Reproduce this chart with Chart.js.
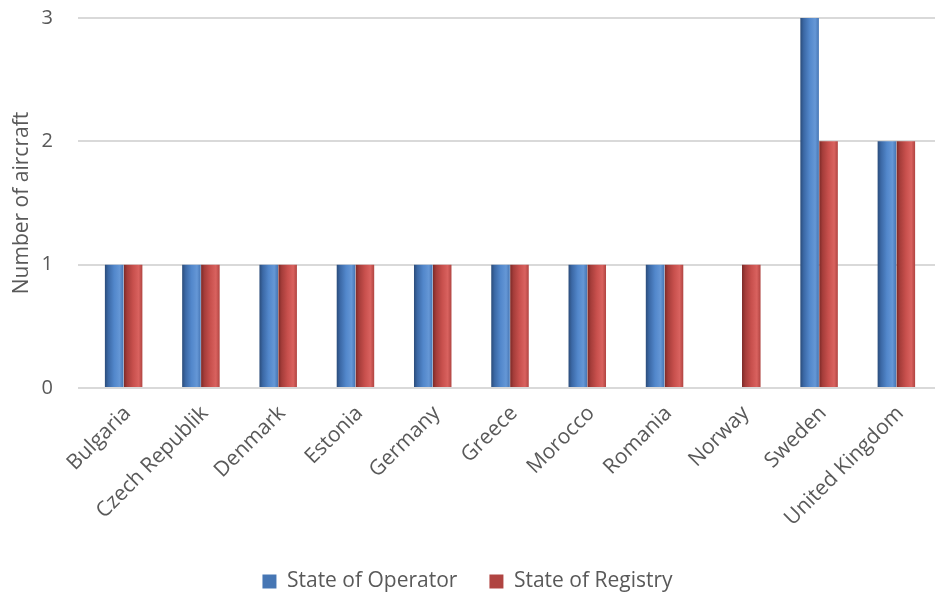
<!DOCTYPE html>
<html>
<head>
<meta charset="utf-8">
<script src="https://cdn.jsdelivr.net/npm/chart.js@4/dist/chart.umd.min.js"></script>
<style>
  html, body { margin: 0; padding: 0; background: #ffffff; }
  #wrap { width: 935px; height: 596px; position: relative; }
</style>
</head>
<body>
<div id="wrap"><canvas id="chart"></canvas></div>
<script>
// Aircraft counts by state
const countries = ['Bulgaria', 'Czech Republik', 'Denmark', 'Estonia', 'Germany', 'Greece',
                   'Morocco', 'Romania', 'Norway', 'Sweden', 'United Kingdom'];
const stateOfOperator = [1, 1, 1, 1, 1, 1, 1, 1, 0, 3, 2];
const stateOfRegistry = [1, 1, 1, 1, 1, 1, 1, 1, 1, 2, 2];
const yTicks = [0, 1, 2, 3];

const TEXT = '#595959';
const FONT = '"Open Sans", sans-serif';
const CAT_PCT = 0.49;
const BAR_PCT = 0.98;

// Cylinder-style shading across each bar's width
const shades = [
  { base: '#4F81BD', stops: ['#2b4c7a', '#3b68a5', '#5287cb', '#6597d6', '#4676b4'] },
  { base: '#C0504D', stops: ['#7c2a28', '#a53d3a', '#c8504d', '#d9625f', '#b04441'] }
];

function cylinderFill(ctx) {
  const shade = shades[ctx.datasetIndex];
  if (ctx.type !== 'data') return shade.base;
  const chart = ctx.chart;
  const xs = chart.scales.x;
  if (!xs || !isFinite(xs.width) || xs.width <= 0) return shade.base;
  const n = chart.data.labels.length;
  const catW = xs.width / n;
  const range = catW * CAT_PCT;
  const slot = range / 2;
  const barW = slot * BAR_PCT;
  const center = xs.getPixelForValue(ctx.dataIndex);
  const left = center - range / 2 + slot * ctx.datasetIndex + (slot - barW) / 2;
  const g = chart.ctx.createLinearGradient(left, 0, left + barW, 0);
  const s = shade.stops;
  g.addColorStop(0, s[0]);
  g.addColorStop(0.18, s[1]);
  g.addColorStop(0.5, s[2]);
  g.addColorStop(0.8, s[3]);
  g.addColorStop(1, s[4]);
  return g;
}

new Chart(document.getElementById('chart'), {
  type: 'bar',
  data: {
    labels: countries,
    datasets: [
      { label: 'State of Operator', data: stateOfOperator, backgroundColor: cylinderFill,
        categoryPercentage: CAT_PCT, barPercentage: BAR_PCT },
      { label: 'State of Registry', data: stateOfRegistry, backgroundColor: cylinderFill,
        categoryPercentage: CAT_PCT, barPercentage: BAR_PCT }
    ]
  },
  options: {
    responsive: true,
    maintainAspectRatio: false,
    animation: false,
    layout: { padding: { left: 0, right: 0, top: 18, bottom: -6 } },
    plugins: {
      legend: {
        position: 'bottom',
        labels: {
          color: TEXT,
          font: { family: FONT, size: 21 },
          boxWidth: 14,
          boxHeight: 14,
          padding: 32
        }
      },
      tooltip: { enabled: false }
    },
    scales: {
      x: {
        grid: { display: false, drawTicks: false },
        border: { display: false },
        ticks: {
          color: TEXT,
          font: { family: FONT, size: 21 },
          minRotation: 45,
          maxRotation: 45,
          autoSkip: false,
          padding: 13,
          labelOffset: 4
        },
        afterFit: (s) => { s.paddingLeft = 0; s.paddingRight = 0; s.height = 151; }
      },
      y: {
        min: 0,
        max: 3,
        afterBuildTicks: (axis) => { axis.ticks = yTicks.map(v => ({ value: v })); },
        grid: { color: '#d9d9d9', lineWidth: 2, tickLength: 7 },
        border: { display: false },
        ticks: {
          color: TEXT,
          font: { family: FONT, size: 20 },
          padding: 25
        },
        title: {
          display: true,
          text: 'Number of aircraft',
          color: TEXT,
          font: { family: FONT, size: 21 },
          padding: { top: 9, bottom: 0 }
        },
        afterFit: (s) => { s.width = 85; s.paddingTop = 0; s.paddingBottom = 0; }
      }
    }
  }
});
</script>
</body>
</html>
